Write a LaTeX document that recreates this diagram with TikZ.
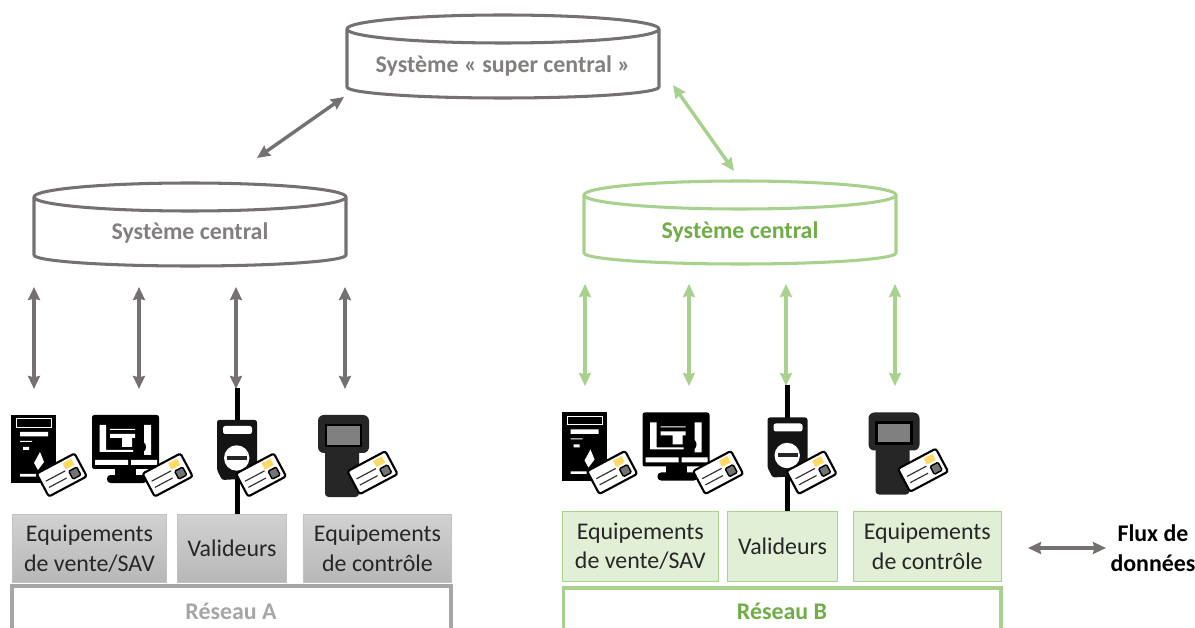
\documentclass[tikz,border=0pt]{standalone}
\usepackage{fontspec}
\setmainfont{Carlito}
\usetikzlibrary{arrows.meta}
\definecolor{gris}{HTML}{767171}
\definecolor{grisclair}{HTML}{A6A6A6}
\definecolor{vert}{HTML}{A9D18E}
\definecolor{vertfonce}{HTML}{70AD47}
\definecolor{puce}{HTML}{FFD966}
\tikzset{
  pics/base/.style={code={
    \draw[line width=2.6pt,#1,fill=white,line join=round] (-156,-28) -- (-156,30)
      arc[x radius=156,y radius=11,start angle=180,end angle=0] -- (156,-28)
      arc[x radius=156,y radius=14,start angle=0,end angle=-180]
      arc[x radius=156,y radius=14,start angle=180,end angle=0];
    }},
  flux/.style={{Stealth[length=11pt,width=10pt,inset=1pt]}-{Stealth[length=11pt,width=10pt,inset=1pt]},line width=2.9pt},
  boite/.style={draw,line width=.8pt,align=center,anchor=north west,inner sep=0pt,text=black!85,font=\fontsize{20.4}{25.5}\selectfont},
  boiteA/.style={boite,draw=grisclair!70,top color=black!18,bottom color=black!28},
  boiteB/.style={boite,draw=vert,fill=vert!35},
  reseau/.style={line width=2.6pt},
  titre/.style={font=\fontsize{20.4}{24}\selectfont\bfseries},
  pics/carte/.style={code={
    \begin{scope}[rotate=28]
    \draw[fill=white,line width=1.8pt,rounded corners=2pt] (-21.5,-13) rectangle (21.5,13);
    \fill[puce] (6,-10) rectangle (16,-3);
    \draw[line width=1pt,black!80] (-17,-2) -- (5,-2) (-17,5) -- (3,5);
    \draw[line width=1.2pt,fill=black!55,rounded corners=1pt] (8,0) rectangle (17,9);
    \end{scope}}},
  pics/kiosque/.style={code={
    \fill[black] (11,415) rectangle (56,483);
    \draw[white,line width=.8pt] (16.5,418.5) rectangle (51.5,427);
    \fill[white] (20,432) rectangle (48,436.5) (20,441) rectangle (32,442) (23,447) rectangle (29,450)
      (20,474) rectangle (36,476.5) (34,463) -- (40,452) -- (44,462) -- (38,470) -- cycle;
    }},
  pics/ecran/.style={code={
    \fill[black,rounded corners=2pt] (92,415) rectangle (159,469);
    \fill[black] (115,469) rectangle (136,476);
    \fill[black,rounded corners=3pt] (107,475) rectangle (147,483);
    \fill[white] (99.5,425) rectangle (106,452) (106,450) rectangle (133,452)
      (144,425) rectangle (151,455) (95,460) rectangle (128,465) (131,460) rectangle (157,465)
      (110,429) rectangle (135,430) (110,434) rectangle (135,438) (122,438) rectangle (132,447);
    \fill[black] (140,447) circle (6);
    }},
  pics/valideur/.style={code={
    \fill[black] (234.5,388) rectangle (239.5,514);
    \fill[black!92,rounded corners=2pt] (217,420) -- (257,420) -- (257,478) -- (222,480) -- (217,470) -- cycle;
    \fill[white,rounded corners=2pt] (223,426) rectangle (252,434);
    \fill[white] (236.7,458) circle (12.7);
    \fill[black!85] (227,456) rectangle (247,460);
    }},
  pics/controleur/.style={code={
    \fill[black!85,rounded corners=3pt] (325,445) rectangle (359,497);
    \fill[black!85,rounded corners=5pt] (318,415) rectangle (369,453);
    \fill[black!50,draw=black,line width=2pt] (326,425) rectangle (361,446);
    }},
  pics/equipements/.style={code={
    \pic {kiosque}; \pic {ecran}; \pic {valideur}; \pic {controleur};
    \pic at (61.7,475) {carte}; \pic at (167.6,475) {carte};
    \pic at (261,475) {carte}; \pic at (372.5,472.7) {carte};
    }},
}
\begin{document}
\begin{tikzpicture}[x=0.03cm,y=-0.03cm]
\useasboundingbox[fill=white] (0,0) rectangle (1195,628);
% systemes
\pic at (503,57) {base=gris};
\node[titre,text=gris!90] (super) at (503,66) {Système « super central »};
\pic at (190,225) {base=gris};
\node[titre,text=gris!90] (centralA) at (190,233) {Système central};
\pic at (740,223) {base=vert};
\node[titre,text=vertfonce] (centralB) at (740,232) {Système central};
% fleches du haut
\coordinate (hautA) at (344,97);
\coordinate (basA) at (257,158);
\coordinate (hautB) at (673,85);
\coordinate (basB) at (734,171);
\draw[flux,gris] (hautA) -- (basA);
\draw[flux,vert] (hautB) -- (basB);
% fleches verticales
\foreach \x in {34,139,236,345}{
  \coordinate (a\x) at (\x,287);
  \coordinate (b\x) at (\x,389);
  \draw[flux,gris] (a\x) -- (b\x);
}
\foreach \x in {585,689,786,895}{
  \coordinate (a\x) at (\x,284);
  \coordinate (b\x) at (\x,386);
  \draw[flux,vert] (a\x) -- (b\x);
}
% materiel
\pic {equipements};
\pic at (550.5,-2.5) {equipements};
% boites
\node[boiteA,minimum width=4.62cm,minimum height=2.04cm] (venteA) at (12,514) {Equipements\\de vente/SAV};
\node[boiteA,minimum width=3.27cm,minimum height=2.04cm] (validA) at (177,514) {Valideurs};
\node[boiteA,minimum width=4.44cm,minimum height=2.04cm] (controleA) at (303,514) {Equipements\\de contrôle};
\node[boiteB,minimum width=4.67cm,minimum height=2.09cm] (venteB) at (562,511) {Equipements\\de vente/SAV};
\node[boiteB,minimum width=3.3cm,minimum height=2.09cm] (validB) at (727,511) {Valideurs};
\node[boiteB,minimum width=4.43cm,minimum height=2.09cm] (controleB) at (853,511) {Equipements\\de contrôle};
% reseaux
\coordinate (ra1) at (12,628); \coordinate (ra2) at (12,586);
\coordinate (ra3) at (451,586); \coordinate (ra4) at (451,628);
\draw[reseau,grisclair] (ra1) -- (ra2) -- (ra3) -- (ra4);
\node[titre,text=grisclair] (reseauA) at (231,611) {Réseau A};
\coordinate (rb1) at (563.5,628); \coordinate (rb2) at (563.5,588);
\coordinate (rb3) at (1001,588); \coordinate (rb4) at (1001,628);
\draw[reseau,vert] (rb1) -- (rb2) -- (rb3) -- (rb4);
\node[titre,text=vertfonce] (reseauB) at (782,611) {Réseau B};
% legende
\coordinate (lg) at (1028,548);
\coordinate (ld) at (1106,548);
\draw[flux,gris] (lg) -- (ld);
\node[align=center,font=\fontsize{20.4}{25.5}\selectfont\bfseries] (legende) at (1153,548) {Flux de\\données};
\end{tikzpicture}
\end{document}
